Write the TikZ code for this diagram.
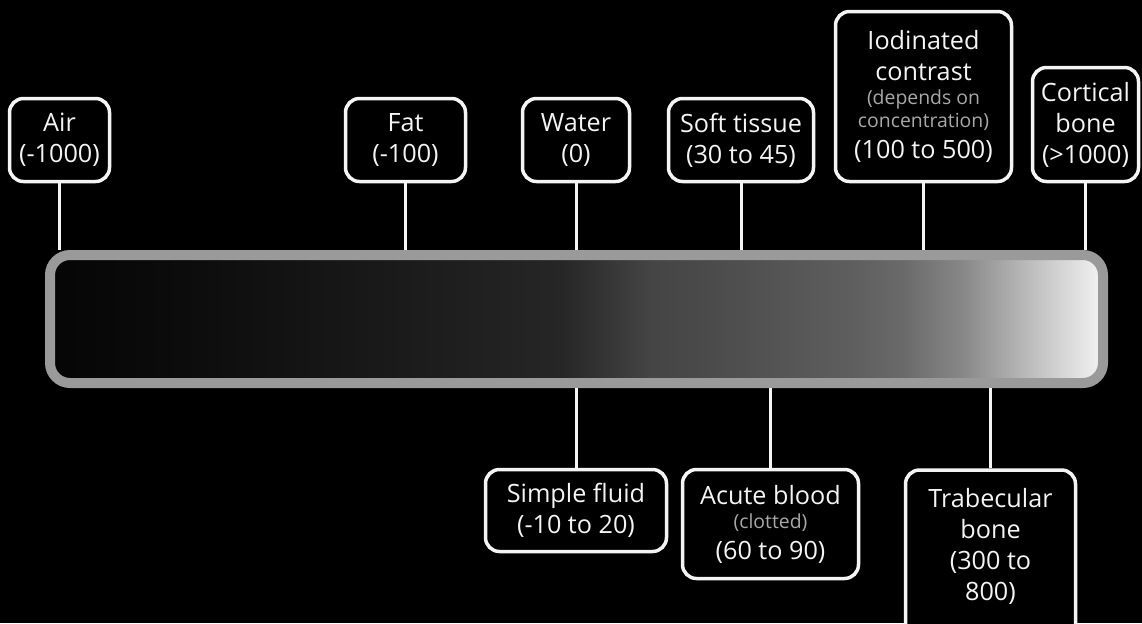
\documentclass[tikz,border=0pt]{standalone}
\usepackage{fontspec}
\setmainfont{Open Sans}

\definecolor{barline}{HTML}{9A9A9A}
\definecolor{faint}{HTML}{A8A8A8}
\definecolor{ink}{HTML}{F4F4F4}

% grey levels of the HU scale, left (air) to right (bone)
\pgfdeclarehorizontalshading{hubar}{100bp}{
  rgb(0bp)=(0.02,0.02,0.02); rgb(25bp)=(0.02,0.02,0.02);
  rgb(31.95bp)=(0.05,0.05,0.05); rgb(43.94bp)=(0.118,0.118,0.118);
  rgb(49.21bp)=(0.149,0.149,0.149); rgb(51.13bp)=(0.2,0.2,0.2);
  rgb(53.53bp)=(0.27,0.27,0.27); rgb(55.92bp)=(0.29,0.29,0.29);
  rgb(63.11bp)=(0.37,0.37,0.37); rgb(65.51bp)=(0.415,0.415,0.415);
  rgb(68.38bp)=(0.533,0.533,0.533); rgb(70.30bp)=(0.66,0.66,0.66);
  rgb(72.70bp)=(0.815,0.815,0.815); rgb(75bp)=(0.955,0.955,0.955);
  rgb(100bp)=(0.955,0.955,0.955)}

\newcommand{\hunote}[1]{{\fontsize{9.7}{11.5}\selectfont\color{faint}#1}}

\tikzset{
  tag/.style={draw=ink, line width=1.75pt, rounded corners=7pt, fill=black,
    text=ink, align=center, inner sep=0pt,
    font=\fontsize{12.6}{15.5}\selectfont},
  link/.style={draw=ink, line width=1.5pt},
  scalebar/.style={shade, shading=hubar, draw=barline, line width=5pt,
    rounded corners=10pt, inner sep=0pt}
}

\begin{document}
\begin{tikzpicture}[x=0.5pt,y=-0.5pt]
\fill[black] (0,0) rectangle (1142,623);
\useasboundingbox (0,0) rectangle (1142,623);

% the bar
\node[scalebar, minimum width=526.5pt, minimum height=64pt] (bar) at (576.5,319) {};

% labels above
\node[tag, minimum width=50pt, minimum height=41.5pt] (air) at (59.5,140) {Air\\(-1000)};
\node[tag, minimum width=60pt, minimum height=41.5pt] (fat) at (405.5,140) {Fat\\(-100)};
\node[tag, minimum width=53.5pt, minimum height=41.5pt] (water) at (576,140) {Water\\(0)};
\node[tag, minimum width=72.5pt, minimum height=41.5pt] (soft) at (741,140) {Soft tissue\\(30 to 45)};
\node[tag, minimum width=88pt, minimum height=85pt] (iodine) at (923.5,96.5)
  {Iodinated\\contrast\\[-3.5pt]\hunote{(depends on}\\[-4pt]\hunote{concentration)}\\(100 to 500)};
\node[tag, minimum width=53pt, minimum height=57pt] (cortical) at (1085.5,124.5) {Cortical\\bone\\(>1000)};

% labels below
\node[tag, minimum width=90.5pt, minimum height=41pt] (fluid) at (576,510.5) {Simple fluid\\(-10 to 20)};
\node[tag, minimum width=88pt, minimum height=54.5pt] (blood) at (770.5,524) {Acute blood\\[-3.5pt]\hunote{(clotted)}\\(60 to 90)};
\node[tag, minimum width=85pt, minimum height=86pt] (trab) at (990.5,556) {Trabecular\\bone\\(300 to\\800)\\[-4pt]\mbox{}};

\foreach \n in {air,fat,water,soft,iodine,cortical}
  \draw[link] (\n) -- (\n |- bar.north);
\foreach \n in {fluid,blood,trab}
  \draw[link] (\n) -- (\n |- bar.south);
\end{tikzpicture}
\end{document}
